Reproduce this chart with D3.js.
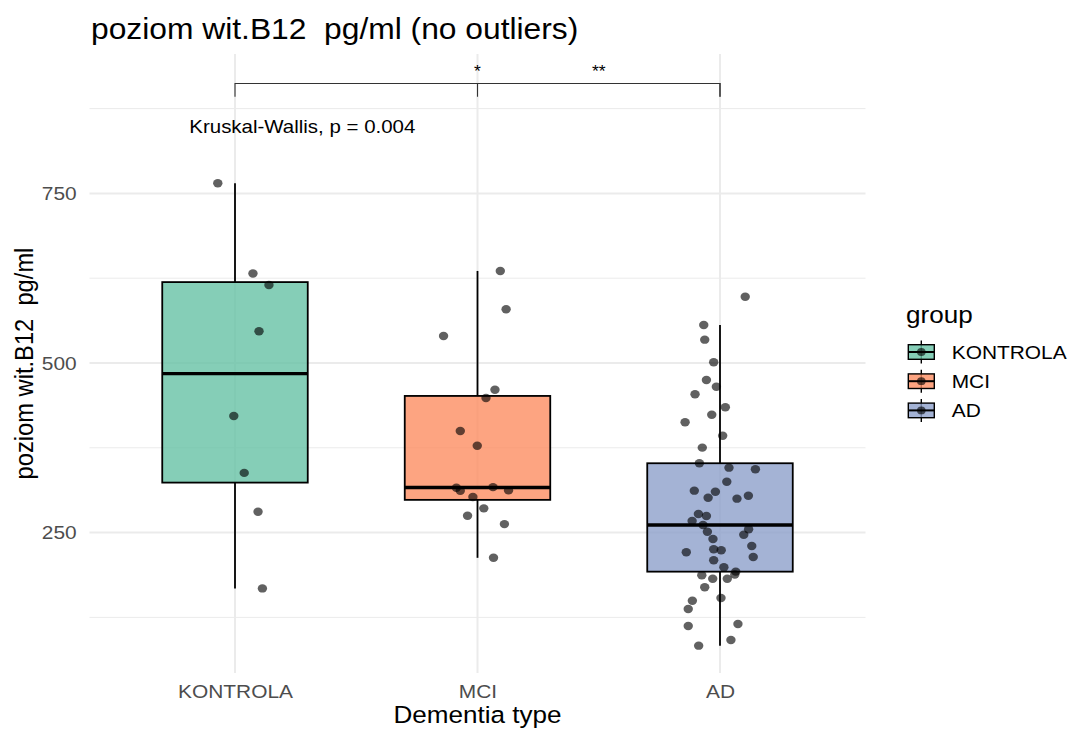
<!DOCTYPE html>
<html>
<head>
<meta charset="utf-8">
<script src="https://cdn.jsdelivr.net/npm/d3@7/dist/d3.min.js"></script>
<style>
  html, body { margin: 0; padding: 0; background: #ffffff; }
  svg text { font-family: "Liberation Sans", Arial, Helvetica, sans-serif; white-space: pre; }
</style>
</head>
<body>
<svg id="chart" width="1071" height="729" xml:space="preserve"></svg>
<script>
// ---- data -------------------------------------------------------------
const categories = ["KONTROLA", "MCI", "AD"];
const groupFills = ["#66C2A5", "#FC8D62", "#8DA0CB"];

// vitamin B12 levels (pg/ml) per group, with the horizontal jitter of each point (category units)
const kontrolaValues = [765, 632, 615, 546.8, 421.8, 338, 280.7, 167.7];
const kontrolaJitter = [-0.071, 0.074, 0.140, 0.099, -0.005, 0.038, 0.095, 0.113];

const mciValues = [635.7, 579.2, 539.8, 460.6, 448.4, 399.7, 378, 316, 311.7, 317, 312.2, 302.4, 285.7, 274.8, 262.5, 212.8];
const mciJitter = [0.094, 0.118, -0.140, 0.072, 0.035, -0.071, -0.001, -0.087, -0.071, 0.064, 0.128, -0.019, 0.026, -0.041, 0.111, 0.066];

const adValues = [597.7, 556, 534.4, 501, 475, 465, 453.9, 434.7, 423.8, 412.6, 392.8, 375.2, 352.2, 345.7, 343.3,
  325, 311.8, 310.3, 301.4, 300, 304.4, 277.4, 274.5, 267.1, 261.2, 254.9, 246.9, 251.3, 240.6, 230.3, 221, 225.4,
  224, 214, 209.2, 198.9, 192.4, 188.2, 187, 182, 182, 169.3, 153.6, 149.6, 137.4, 112.3, 115.3, 91.7, 83.3];
const adJitter = [0.104, -0.067, -0.063, -0.026, -0.056, -0.015, -0.103, 0.022, -0.034, -0.144, 0.011, -0.073, -0.085, 0.037, 0.146,
  0.028, -0.106, -0.019, -0.049, 0.070, 0.117, -0.089, -0.056, -0.115, -0.070, 0.118, 0.098, -0.052, -0.029, 0.131, -0.139, -0.026,
  0.005, 0.137, -0.026, 0.016, 0.065, 0.061, -0.075, -0.030, 0.030, -0.063, 0.004, -0.114, -0.131, -0.131, 0.074, 0.045, -0.088];

const yMajorTicks = [250, 500, 750];
const yMinorTicks = [125, 375, 625, 875];

// pairwise comparison brackets and the global test label
const comparisons = [
  { from: "KONTROLA", to: "AD", label: "*" },
  { from: "MCI", to: "AD", label: "**" }
];
const bracketLevel = 912;
const bracketTip = 892.5;
const globalTestLabel = "Kruskal-Wallis, p = 0.004";
const globalTestLevel = 843;

const titleText = "poziom wit.B12  pg/ml (no outliers)";
const yTitle = "poziom wit.B12  pg/ml";
const xTitle = "Dementia type";
const legendTitle = "group";

// ---- layout -----------------------------------------------------------
const panel = { left: 89.5, right: 865.5, top: 54, bottom: 673 };
const sx = 1.1; // horizontal text stretch used throughout the figure

const svg = d3.select("#chart");

const x = d3.scalePoint().domain(categories).range([panel.left, panel.right]).padding(0.6);
const y = d3.scaleLinear().domain([43, 955.5]).range([panel.bottom, panel.top]);
const color = d3.scaleOrdinal().domain(categories).range(groupFills);

const groups = [
  { key: "KONTROLA", values: kontrolaValues, jitter: kontrolaJitter },
  { key: "MCI", values: mciValues, jitter: mciJitter },
  { key: "AD", values: adValues, jitter: adJitter }
];

function boxStats(vals) {
  const s = vals.slice().sort(d3.ascending);
  const q1 = d3.quantile(s, 0.25), med = d3.quantile(s, 0.5), q3 = d3.quantile(s, 0.75);
  const iqr = q3 - q1;
  const lo = d3.min(s.filter(v => v >= q1 - 1.5 * iqr));
  const hi = d3.max(s.filter(v => v <= q3 + 1.5 * iqr));
  return { q1, med, q3, lo, hi };
}

// ---- grid -------------------------------------------------------------
const grid = svg.append("g").attr("class", "grid");
grid.selectAll("line.minor").data(yMinorTicks).join("line")
  .attr("x1", panel.left).attr("x2", panel.right)
  .attr("y1", d => y(d)).attr("y2", d => y(d))
  .attr("stroke", "#EBEBEB").attr("stroke-width", 1);
grid.selectAll("line.major").data(yMajorTicks).join("line")
  .attr("x1", panel.left).attr("x2", panel.right)
  .attr("y1", d => y(d)).attr("y2", d => y(d))
  .attr("stroke", "#EBEBEB").attr("stroke-width", 2);
grid.selectAll("line.vert").data(categories).join("line")
  .attr("x1", d => x(d)).attr("x2", d => x(d))
  .attr("y1", panel.top).attr("y2", panel.bottom)
  .attr("stroke", "#EBEBEB").attr("stroke-width", 2);

// ---- boxes ------------------------------------------------------------
const boxW = 0.6 * x.step();
const boxes = svg.append("g").attr("class", "boxes");
groups.forEach(g => {
  const st = boxStats(g.values);
  const cx = x(g.key);
  const b = boxes.append("g");
  b.append("line").attr("x1", cx).attr("x2", cx).attr("y1", y(st.hi)).attr("y2", y(st.q3))
    .attr("stroke", "#000").attr("stroke-width", 1.8);
  b.append("line").attr("x1", cx).attr("x2", cx).attr("y1", y(st.q1)).attr("y2", y(st.lo))
    .attr("stroke", "#000").attr("stroke-width", 1.8);
  b.append("rect")
    .attr("x", cx - boxW / 2).attr("width", boxW)
    .attr("y", y(st.q3)).attr("height", y(st.q1) - y(st.q3))
    .attr("fill", color(g.key)).attr("fill-opacity", 0.8)
    .attr("stroke", "#000").attr("stroke-width", 1.8);
  b.append("line").attr("x1", cx - boxW / 2).attr("x2", cx + boxW / 2)
    .attr("y1", y(st.med)).attr("y2", y(st.med))
    .attr("stroke", "#000").attr("stroke-width", 3.4);
});

// ---- jittered points --------------------------------------------------
const pts = svg.append("g").attr("class", "points");
groups.forEach(g => {
  pts.selectAll(null).data(g.values.map((v, i) => ({ v, j: g.jitter[i] }))).join("ellipse")
    .attr("cx", d => x(g.key) + d.j * x.step())
    .attr("cy", d => y(d.v))
    .attr("rx", 4.7).attr("ry", 4.2)
    .attr("fill", "#000").attr("fill-opacity", 0.62);
});

// ---- helpers for stretched text --------------------------------------
function placeText(sel, px, py) {
  return sel.attr("transform", `translate(${px},${py}) scale(${sx},1)`).attr("x", 0).attr("y", 0);
}

// ---- axes -------------------------------------------------------------
const yAxis = svg.append("g").attr("transform", `translate(${panel.left},0)`)
  .call(d3.axisLeft(y).tickValues(yMajorTicks).tickSize(0).tickPadding(11.6));
yAxis.select(".domain").remove();
yAxis.selectAll("text")
  .attr("font-size", 19).attr("fill", "#4D4D4D")
  .attr("font-family", "'Liberation Sans', Arial, sans-serif")
  .attr("transform", `scale(${sx},1)`);

const xAxis = svg.append("g").attr("transform", `translate(0,${panel.bottom})`)
  .call(d3.axisBottom(x).tickSize(0).tickPadding(11.5));
xAxis.select(".domain").remove();
xAxis.selectAll("text")
  .attr("font-size", 19).attr("fill", "#4D4D4D")
  .attr("font-family", "'Liberation Sans', Arial, sans-serif")
  .attr("transform", `scale(${sx},1)`);

// axis titles
placeText(svg.append("text").text(xTitle)
  .attr("font-size", 23.7).attr("text-anchor", "middle").attr("fill", "#000"),
  (panel.left + panel.right) / 2, 723);
svg.append("text").text(yTitle)
  .attr("font-size", 23.7).attr("text-anchor", "middle").attr("fill", "#000")
  .attr("transform", `translate(33,${(panel.top + panel.bottom) / 2}) scale(${sx},1) rotate(-90)`);

// title
placeText(svg.append("text").text(titleText)
  .attr("font-size", 28.9).attr("fill", "#000"), 91, 38.7);

// ---- comparison brackets ---------------------------------------------
const br = svg.append("g").attr("class", "brackets");
comparisons.forEach(c => {
  const x1 = x(c.from), x2 = x(c.to);
  br.append("path")
    .attr("d", `M${x1},${y(bracketTip)}V${y(bracketLevel)}H${x2}V${y(bracketTip)}`)
    .attr("fill", "none").attr("stroke", "#333").attr("stroke-width", 1.1);
  placeText(br.append("text").text(c.label)
    .attr("font-size", 16).attr("text-anchor", "middle").attr("fill", "#000"),
    (x1 + x2) / 2, y(bracketLevel) - 7);
});

placeText(svg.append("text").text(globalTestLabel)
  .attr("font-size", 18.6).attr("fill", "#000"), 189.3, y(globalTestLevel) + 2.5);

// ---- legend -----------------------------------------------------------
const legend = svg.append("g").attr("class", "legend");
placeText(legend.append("text").text(legendTitle)
  .attr("font-size", 23.7).attr("fill", "#000"), 906, 323);

categories.forEach((k, i) => {
  const cy = 352 + i * 29.2;
  const cx = 921.3;
  const key = legend.append("g");
  key.append("line").attr("x1", cx).attr("x2", cx).attr("y1", cy - 11.5).attr("y2", cy + 11.5)
    .attr("stroke", "#000").attr("stroke-width", 1.4);
  key.append("rect").attr("x", cx - 13).attr("y", cy - 7.3).attr("width", 26).attr("height", 14.6)
    .attr("fill", color(k)).attr("fill-opacity", 0.8).attr("stroke", "#000").attr("stroke-width", 1.4);
  key.append("line").attr("x1", cx - 13).attr("x2", cx + 13).attr("y1", cy).attr("y2", cy)
    .attr("stroke", "#000").attr("stroke-width", 2);
  key.append("ellipse").attr("cx", cx).attr("cy", cy).attr("rx", 4.3).attr("ry", 3.9)
    .attr("fill", "#000").attr("fill-opacity", 0.62);
  placeText(legend.append("text").text(k)
    .attr("font-size", 19).attr("fill", "#000").attr("dy", "0.35em"), 951.7, cy);
});
</script>
</body>
</html>
